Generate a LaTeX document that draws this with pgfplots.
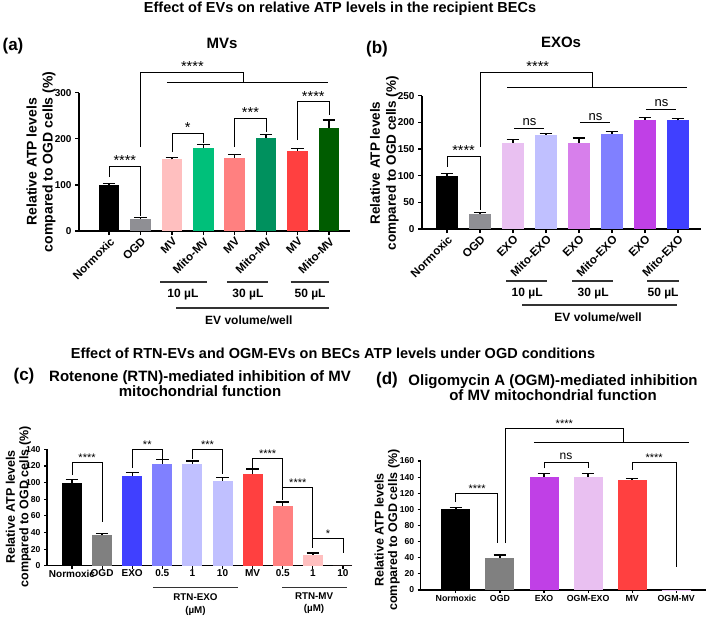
\documentclass[border=0pt]{standalone}
\usepackage{fontspec}
\setmainfont{Liberation Sans}
\usepackage{pgfplots}
\pgfplotsset{compat=1.18}

\definecolor{cgray}{HTML}{8F8F94}
\definecolor{cgrayb}{HTML}{808080}
\definecolor{cpink}{HTML}{FFBFBF}
\definecolor{cgreen}{HTML}{00C07A}
\definecolor{csalmon}{HTML}{FF8080}
\definecolor{cgreenb}{HTML}{00915E}
\definecolor{cred}{HTML}{FF4040}
\definecolor{cgreenc}{HTML}{005C00}
\definecolor{clilac}{HTML}{E9C0F1}
\definecolor{clav}{HTML}{C0C0FF}
\definecolor{corchid}{HTML}{D77FEB}
\definecolor{cperi}{HTML}{8080FF}
\definecolor{cpurple}{HTML}{C040E6}
\definecolor{cblue}{HTML}{4040FF}

\newcommand{\fb}[1]{\fontsize{#1}{#1}\selectfont\bfseries}
\newcommand{\fn}[1]{\fontsize{#1}{#1}\selectfont}

\pgfplotsset{
  panel/.style={scale only axis, anchor=south west,
    axis x line*=bottom, axis y line*=left,
    axis line style={-, line width=1.6pt},
    tick align=outside, major tick length=4pt,
    tick style={line width=1.3pt, black},
    clip=false,
    /pgf/number format/assume math mode=true,
    ylabel style={align=center, anchor=center}},
  bb/.style={ybar, bar shift=0pt, draw=none,
    error bars/.cd, y dir=plus, y explicit,
    error bar style={line width=1.4pt, black},
    error mark options={rotate=90, line width=1.4pt, black, mark size=6.3pt}},
}
\tikzset{
  br/.style={line width=0.9pt, black},
  starA/.style={anchor=south, inner sep=0.5pt, font=\fn{14.5}},
  starC/.style={anchor=south, inner sep=0.5pt, font=\fn{11}},
  nsA/.style={anchor=south, inner sep=2pt, font=\fn{13}},
  grp/.style={anchor=center, inner sep=0pt, font=\fb{12}},
  ul/.style={line width=1.1pt, black!80},
}

\begin{document}
\begin{tikzpicture}
\path[use as bounding box] (0,0) rectangle (708pt,-618pt);

% ---------- titles ----------
\node[font=\fb{14.5}] at (340pt,-9pt) {Effect of EVs on relative ATP levels in the recipient BECs};
\node[font=\fb{17}] at (13pt,-46pt) {(a)};
\node[font=\fb{15}] at (222pt,-43pt) {MVs};
\node[font=\fb{17}] at (377pt,-49pt) {(b)};
\node[font=\fb{15}] at (561pt,-42pt) {EXOs};
\node[font=\fb{14.5}] at (333pt,-353pt) {Effect of RTN-EVs and OGM-EVs on BECs ATP levels under OGD conditions};
\node[font=\fb{17}] at (24pt,-376pt) {(c)};
\node[font=\fb{15}, align=center] at (200pt,-384pt) {\fontsize{15}{20}\selectfont\bfseries Rotenone (RTN)-mediated inhibition of MV\\mitochondrial function};
\node[font=\fb{17}] at (387pt,-380pt) {(d)};
\node[font=\fb{15}, align=center] at (553pt,-388pt) {\fontsize{15}{19}\selectfont\bfseries Oligomycin A (OGM)-mediated inhibition\\of MV mitochondrial function};

% ---------- (a) ----------
\begin{axis}[panel, at={(79pt,-231pt)}, width=271pt, height=138.3pt,
  xmin=-0.96, xmax=7.67, ymin=0, ymax=300, bar width=20.6pt,
  xtick={0,...,7}, xticklabels={Normoxic,OGD,MV,Mito-MV,MV,Mito-MV,MV,Mito-MV},
  xticklabel style={rotate=45, anchor=north east, inner sep=1pt, font=\fb{11.5}},
  ytick={0,100,200,300}, yticklabel style={font=\fb{10}},
  ylabel={Relative ATP levels\\compared to OGD cells (\%)},
  ylabel style={at={(axis description cs:-0.14,0.5)}, font=\fontsize{14}{16}\selectfont\bfseries}]
\addplot[fill=black, bb] coordinates {(0,100) +- (0,3.5)};
\addplot[fill=cgray, bb] coordinates {(1,26.5) +- (0,2.5)};
\addplot[fill=cpink, bb] coordinates {(2,155.5) +- (0,4)};
\addplot[fill=cgreen, bb] coordinates {(3,180) +- (0,7)};
\addplot[fill=csalmon, bb] coordinates {(4,159) +- (0,7)};
\addplot[fill=cgreenb, bb] coordinates {(5,202.5) +- (0,7)};
\addplot[fill=cred, bb] coordinates {(6,174) +- (0,5)};
\addplot[fill=cgreenc, bb] coordinates {(7,223) +- (0,18)};
% brackets
\draw[br] (axis cs:1,182) -- (axis cs:1,345) -- (axis cs:4.29,345) -- (axis cs:4.29,323);
\draw[br] (axis cs:1.84,323) -- (axis cs:6.97,323);
\node[starA] at (axis cs:2.65,345) {****};
\draw[br] (axis cs:0,117) -- (axis cs:0,141) -- (axis cs:1,141) -- (axis cs:1,33);
\node[starA] at (axis cs:0.5,141) {****};
\draw[br] (axis cs:2,171) -- (axis cs:2,212.6) -- (axis cs:3,212.6) -- (axis cs:3,191);
\node[starA] at (axis cs:2.5,212.6) {*};
\draw[br] (axis cs:4,182) -- (axis cs:4,245) -- (axis cs:5,245) -- (axis cs:5,215);
\node[starA] at (axis cs:4.5,245) {***};
\draw[br] (axis cs:6,197) -- (axis cs:6,280) -- (axis cs:7,280) -- (axis cs:7,252);
\node[starA] at (axis cs:6.5,280) {****};
% groups
\draw[ul] (axis cs:1.62,-110.6) -- (axis cs:3.11,-110.6);
\draw[ul] (axis cs:3.75,-110.6) -- (axis cs:5.06,-110.6);
\draw[ul] (axis cs:5.78,-110.6) -- (axis cs:7.0,-110.6);
\node[grp] at (axis cs:2.35,-138.8) {10 µL};
\node[grp] at (axis cs:4.42,-138.8) {30 µL};
\node[grp] at (axis cs:6.4,-138.8) {50 µL};
\draw[ul] (axis cs:2.13,-167) -- (axis cs:7.0,-167);
\node[grp] at (axis cs:4.45,-193) {EV volume/well};
\end{axis}

% ---------- (b) ----------
\begin{axis}[panel, at={(422pt,-229pt)}, width=279pt, height=133.3pt,
  xmin=-0.76, xmax=7.7, ymin=0, ymax=250, bar width=22pt,
  xtick={0,...,7}, xticklabels={Normoxic,OGD,EXO,Mito-EXO,EXO,Mito-EXO,EXO,Mito-EXO},
  xticklabel style={rotate=45, anchor=north east, inner sep=1pt, font=\fb{11.5}},
  ytick={0,50,...,250}, yticklabel style={font=\fb{10}},
  ylabel={Relative ATP levels\\compared to OGD cells (\%)},
  ylabel style={at={(axis description cs:-0.135,0.495)}, font=\fontsize{13.5}{16}\selectfont\bfseries}]
\addplot[fill=black, bb] coordinates {(0,100) +- (0,4)};
\addplot[fill=cgray, bb] coordinates {(1,27.5) +- (0,3)};
\addplot[fill=clilac, bb] coordinates {(2,162) +- (0,6)};
\addplot[fill=clav, bb] coordinates {(3,177) +- (0,2)};
\addplot[fill=corchid, bb] coordinates {(4,162) +- (0,8.5)};
\addplot[fill=cperi, bb] coordinates {(5,178.5) +- (0,4)};
\addplot[fill=cpurple, bb] coordinates {(6,204.5) +- (0,5)};
\addplot[fill=cblue, bb] coordinates {(7,203.5) +- (0,4)};
\draw[br] (axis cs:1,154) -- (axis cs:1,294.4) -- (axis cs:4.4,294.4) -- (axis cs:4.4,266.3);
\draw[br] (axis cs:1.82,266.3) -- (axis cs:7.28,266.3);
\node[starA] at (axis cs:2.75,294.4) {****};
\draw[br] (axis cs:0,116.3) -- (axis cs:0,136.9) -- (axis cs:1,136.9) -- (axis cs:1,36);
\node[starA] at (axis cs:0.5,136.9) {****};
\draw[br] (axis cs:2.03,189) -- (axis cs:2.95,189);
\node[nsA] at (axis cs:2.5,189) {ns};
\draw[br] (axis cs:4.03,199) -- (axis cs:4.95,199);
\node[nsA] at (axis cs:4.5,199) {ns};
\draw[br] (axis cs:6.03,225) -- (axis cs:6.95,225);
\node[nsA] at (axis cs:6.5,225) {ns};
\draw[ul] (axis cs:1.79,-97.5) -- (axis cs:3.03,-97.5);
\draw[ul] (axis cs:3.8,-97.5) -- (axis cs:5.03,-97.5);
\draw[ul] (axis cs:6.07,-97.5) -- (axis cs:7.04,-97.5);
\node[grp] at (axis cs:2.43,-121.9) {10 µL};
\node[grp] at (axis cs:4.43,-121.9) {30 µL};
\node[grp] at (axis cs:6.55,-121.9) {50 µL};
\draw[ul] (axis cs:2.28,-142.5) -- (axis cs:6.98,-142.5);
\node[grp] at (axis cs:4.58,-165) {EV volume/well};
\end{axis}

% ---------- (c) ----------
\begin{axis}[panel, at={(47pt,-565.7pt)}, width=305pt, height=116.3pt,
  axis line style={-, line width=1.3pt}, tick style={line width=1.1pt, black}, major tick length=3pt,
  xmin=-0.83, xmax=9.3, ymin=0, ymax=140, bar width=20pt,
  xtick={0,...,9}, xticklabels={Normoxic,OGD,EXO,0.5,1,10,MV,0.5,1,10},
  xticklabel style={inner sep=1pt, font=\fb{10}},
  ytick={0,20,...,140}, yticklabel style={font=\fb{8.6}},
  ylabel={Relative ATP levels\\compared to OGD cells (\%)},
  ylabel style={at={(axis description cs:-0.0934,0.505)}, font=\fontsize{12.5}{13.5}\selectfont\bfseries}]
\addplot[fill=black, bb] coordinates {(0,100) +- (0,3.5)};
\addplot[fill=cgrayb, bb] coordinates {(1,36.5) +- (0,2.5)};
\addplot[fill=cblue, bb] coordinates {(2,108.5) +- (0,4)};
\addplot[fill=cperi, bb] coordinates {(3,123) +- (0,4.5)};
\addplot[fill=clav, bb] coordinates {(4,123) +- (0,3)};
\addplot[fill=clav, bb] coordinates {(5,102.5) +- (0,4)};
\addplot[fill=cred, bb] coordinates {(6,110) +- (0,6.5)};
\addplot[fill=csalmon, bb] coordinates {(7,72) +- (0,4.5)};
\addplot[fill=cpink, bb] coordinates {(8,13) +- (0,2.5)};
\addplot[fill=cpink, ybar, bar shift=0pt, draw=none] coordinates {(9,0)};
\draw[br] (axis cs:0,109) -- (axis cs:0,124.8) -- (axis cs:1,124.8) -- (axis cs:1,52.6);
\node[starC] at (axis cs:0.5,124.8) {****};
\draw[br] (axis cs:2,117.6) -- (axis cs:2,140.5) -- (axis cs:3,140.5) -- (axis cs:3,128.4);
\node[starC] at (axis cs:2.5,140.5) {**};
\draw[br] (axis cs:4,128.4) -- (axis cs:4,140.5) -- (axis cs:5,140.5) -- (axis cs:5,110.4);
\node[starC] at (axis cs:4.5,140.5) {***};
\draw[br] (axis cs:6,117.6) -- (axis cs:6,129.7) -- (axis cs:7,129.7) -- (axis cs:7,79);
\node[starC] at (axis cs:6.5,129.7) {****};
\draw[br] (axis cs:7,79) -- (axis cs:7,94.7) -- (axis cs:8,94.7) -- (axis cs:8,21.3);
\node[starC] at (axis cs:7.5,94.7) {****};
\draw[br] (axis cs:8,25) -- (axis cs:8,33.3) -- (axis cs:9,33.3) -- (axis cs:9,15.3);
\node[starC] at (axis cs:8.5,33.3) {*};
\draw[ul] (axis cs:2.69,-26) -- (axis cs:5.51,-26);
\draw[ul] (axis cs:6.98,-26) -- (axis cs:9.13,-26);
\node[grp, align=center, font=\fontsize{9.8}{12.5}\selectfont\bfseries] at (axis cs:4.1,-47) {RTN-EXO\\(µM)};
\node[grp, align=center, font=\fontsize{9.8}{12.5}\selectfont\bfseries] at (axis cs:8.04,-45) {RTN-MV\\(µM)};
\end{axis}

% ---------- (d) ----------
\begin{axis}[panel, at={(420.7pt,-590pt)}, width=285pt, height=129pt,
  axis line style={-, line width=1.3pt}, tick style={line width=1.1pt, black}, major tick length=3pt,
  xmin=-0.8, xmax=5.67, ymin=0, ymax=160, bar width=29pt,
  xtick={0,...,5}, xticklabels={Normoxic,OGD,EXO,OGM-EXO,MV,OGM-MV},
  xticklabel style={inner sep=2pt, font=\fb{8.8}},
  ytick={0,20,...,160}, yticklabel style={font=\fb{8.6}},
  ylabel={Relative ATP levels\\compared to OGD cells (\%)},
  ylabel style={at={(axis description cs:-0.118,0.465)}, font=\fontsize{12.5}{13.5}\selectfont\bfseries}]
\addplot[fill=black, bb] coordinates {(0,100) +- (0,2.5)};
\addplot[fill=cgrayb, bb] coordinates {(1,40) +- (0,3.5)};
\addplot[fill=cpurple, bb] coordinates {(2,140.5) +- (0,4)};
\addplot[fill=clilac, bb] coordinates {(3,140) +- (0,4.5)};
\addplot[fill=cred, bb] coordinates {(4,136.5) +- (0,2)};
\addplot[fill=clilac, bb] coordinates {(5,0.5) +- (0,0.3)};
\draw[br] (axis cs:1.12,58) -- (axis cs:1.12,201) -- (axis cs:3.8,201) -- (axis cs:3.8,183.6);
\draw[br] (axis cs:1.77,183.6) -- (axis cs:5.3,183.6);
\node[starC] at (axis cs:2.46,201) {****};
\draw[br] (axis cs:0,109) -- (axis cs:0,120.3) -- (axis cs:0.95,120.3) -- (axis cs:0.95,58);
\node[starC] at (axis cs:0.48,120.3) {****};
\draw[br] (axis cs:2,151) -- (axis cs:2,158.8) -- (axis cs:3,158.8) -- (axis cs:3,151);
\node[nsA, font=\fn{12}] at (axis cs:2.5,158.8) {ns};
\draw[br] (axis cs:4,149) -- (axis cs:4,158.8) -- (axis cs:5,158.8) -- (axis cs:5,28.5);
\node[starC] at (axis cs:4.5,158.8) {****};
\end{axis}
\end{tikzpicture}
\end{document}
